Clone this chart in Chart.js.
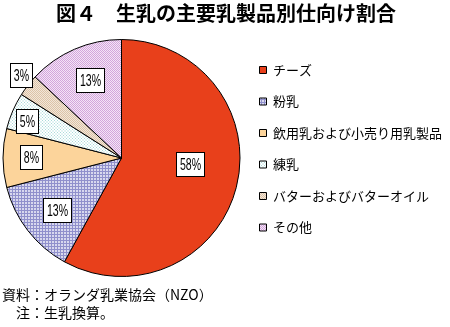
<!DOCTYPE html>
<html><head><meta charset="utf-8">
<script src="https://cdn.jsdelivr.net/npm/chart.js@4.4.1/dist/chart.umd.min.js"></script>
<style>html,body{margin:0;padding:0;background:#fff;}canvas{display:block;}</style>
</head><body>
<canvas id="c" width="450" height="327"></canvas>
<script>
// ---- data ----
const categories = ['チーズ', '粉乳', '飲用乳および小売り用乳製品', '練乳', 'バターおよびバターオイル', 'その他'];
const shares = [58, 13, 8, 5, 3, 13];
const valueLabels = ['58%', '13%', '8%', '5%', '3%', '13%'];
const titleText = '図４　生乳の主要乳製品別仕向け割合';
const noteLines = ['資料：オランダ乳業協会（NZO）', '　注：生乳換算。'];

// ---- styles ----
const tmp = document.createElement('canvas').getContext('2d');
function makePattern(size, bg, paint) {
  const c = document.createElement('canvas');
  c.width = c.height = size;
  const x = c.getContext('2d');
  x.fillStyle = bg; x.fillRect(0, 0, size, size);
  paint(x);
  return tmp.createPattern(c, 'repeat');
}
const fills = [
  '#E8401B',
  makePattern(3, '#ffffff', x => { x.fillStyle = '#9090CC'; x.fillRect(0, 0, 3, 1); x.fillRect(0, 0, 1, 3); x.fillStyle = '#D8D8EE'; x.fillRect(1, 1, 2, 2); }),
  '#FCD49B',
  makePattern(3, '#ffffff', x => { x.fillStyle = '#A9DADA'; x.fillRect(0, 0, 1, 1); x.fillStyle = '#E2F3F3'; x.fillRect(1, 1, 2, 2); }),
  makePattern(2, '#F2E6D8', x => { x.fillStyle = '#DCC3A8'; x.fillRect(0, 0, 1, 1); x.fillRect(1, 1, 1, 1); }),
  makePattern(2, '#F4E5F6', x => { x.fillStyle = '#D3A5DC'; x.fillRect(0, 0, 1, 1); x.fillRect(1, 1, 1, 1); })
];
// label placement: fraction of radius and angular nudge (degrees)
const labelRadius = [0.58, 0.70, 0.76, 0.86, 1.10, 0.71];
const labelShift = [-9.6, -1.2, 0.6, -1.9, 1.8, 1.3];

const valueLabelPlugin = {
  id: 'valueLabels',
  afterDatasetsDraw(chart) {
    const ctx = chart.ctx;
    const meta = chart.getDatasetMeta(0);
    meta.data.forEach((arc, i) => {
      const p = arc.getProps(['x', 'y', 'startAngle', 'endAngle', 'outerRadius'], true);
      const a = (p.startAngle + p.endAngle) / 2 + labelShift[i] * Math.PI / 180;
      const r = p.outerRadius * labelRadius[i];
      const cx = p.x + Math.cos(a) * r;
      const cy = p.y + Math.sin(a) * r;
      ctx.save();
      ctx.font = '16px "Liberation Sans", Arial, sans-serif';
      const sx = 0.66;
      const tw = ctx.measureText(valueLabels[i]).width * sx;
      const w = Math.round(tw + 7), h = 24;
      const bx = Math.round(cx - w / 2) + 0.5, by = Math.round(cy - h / 2) + 0.5;
      ctx.fillStyle = '#fff';
      ctx.fillRect(bx, by, w, h);
      ctx.strokeStyle = '#000';
      ctx.lineWidth = 1;
      ctx.strokeRect(bx, by, w, h);
      ctx.translate(bx + w / 2, by + h / 2 + 1);
      ctx.scale(sx, 1);
      ctx.fillStyle = '#000';
      ctx.textAlign = 'center';
      ctx.textBaseline = 'middle';
      ctx.fillText(valueLabels[i], 0, 0);
      ctx.restore();
    });
  }
};

const jp = '"Noto Sans CJK JP", "Noto Sans CJK SC", sans-serif';
new Chart(document.getElementById('c'), {
  type: 'pie',
  data: {
    labels: categories,
    datasets: [{
      data: shares,
      backgroundColor: fills,
      borderColor: '#000',
      borderWidth: 1
    }]
  },
  options: {
    responsive: false,
    animation: false,
    events: [],
    layout: { padding: { left: 2, right: 0, top: 0, bottom: 0 } },
    plugins: {
      title: {
        display: true,
        text: titleText,
        color: '#000',
        font: { family: jp, size: 20, weight: 'bold', lineHeight: 1.2 },
        padding: { top: 1, bottom: 14 }
      },
      subtitle: {
        display: true,
        position: 'bottom',
        align: 'start',
        text: noteLines,
        color: '#000',
        font: { family: jp, size: 14, lineHeight: 18 / 14 },
        padding: { top: 9, bottom: 5 }
      },
      legend: {
        display: true,
        position: 'right',
        align: 'start',
        maxWidth: 209,
        title: { display: true, text: ' ', font: { size: 1, lineHeight: 1 }, padding: { top: 41, bottom: 3 } },
        labels: {
          color: '#000',
          font: { family: jp, size: 13 },
          boxWidth: 7,
          boxHeight: 7,
          padding: 18.5
        }
      },
      tooltip: { enabled: false }
    }
  },
  plugins: [valueLabelPlugin]
});
</script>
</body></html>
